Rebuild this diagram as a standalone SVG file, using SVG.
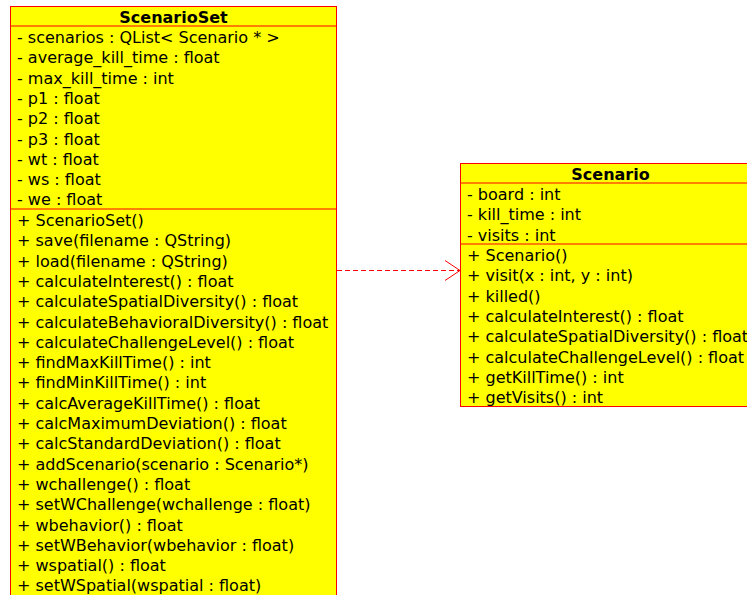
<svg xmlns="http://www.w3.org/2000/svg" width="747" height="595" viewBox="0 0 747 595">
  <style>
    .box { fill: #ffff00; stroke: #ff0000; stroke-width: 1; }
    .sep { stroke: #ff0000; stroke-width: 1; }
    .title { font-family: "DejaVu Sans", sans-serif; font-size: 16px; font-weight: bold; fill: #000; text-anchor: middle; }
    .mem { font-family: "DejaVu Sans", sans-serif; font-size: 16px; fill: #000; }
    .dep { fill: none; stroke: #ff0000; stroke-width: 1; }
  </style>
  <rect width="747" height="595" fill="#ffffff"/>

  <g id="ScenarioSet">
    <rect class="box" x="10.5" y="6.5" width="326" height="600"/>
    <line class="sep" x1="10.5" y1="26" x2="336.5" y2="26"/>
    <line class="sep" x1="10.5" y1="209" x2="336.5" y2="209"/>
    <text class="title" x="173.5" y="23">ScenarioSet</text>
    <text class="mem" x="17" y="43">- scenarios : QList&lt; Scenario * &gt;</text>
    <text class="mem" x="17" y="63.3">- average_kill_time : float</text>
    <text class="mem" x="17" y="83.6">- max_kill_time : int</text>
    <text class="mem" x="17" y="103.9">- p1 : float</text>
    <text class="mem" x="17" y="124.2">- p2 : float</text>
    <text class="mem" x="17" y="144.5">- p3 : float</text>
    <text class="mem" x="17" y="164.8">- wt : float</text>
    <text class="mem" x="17" y="185.1">- ws : float</text>
    <text class="mem" x="17" y="205.4">- we : float</text>
    <text class="mem" x="17" y="226">+ ScenarioSet()</text>
    <text class="mem" x="17" y="246.3">+ save(filename : QString)</text>
    <text class="mem" x="17" y="266.6">+ load(filename : QString)</text>
    <text class="mem" x="17" y="286.9">+ calculateInterest() : float</text>
    <text class="mem" x="17" y="307.2">+ calculateSpatialDiversity() : float</text>
    <text class="mem" x="17" y="327.5">+ calculateBehavioralDiversity() : float</text>
    <text class="mem" x="17" y="347.8">+ calculateChallengeLevel() : float</text>
    <text class="mem" x="17" y="368.1">+ findMaxKillTime() : int</text>
    <text class="mem" x="17" y="388.4">+ findMinKillTime() : int</text>
    <text class="mem" x="17" y="408.7">+ calcAverageKillTime() : float</text>
    <text class="mem" x="17" y="429">+ calcMaximumDeviation() : float</text>
    <text class="mem" x="17" y="449.3">+ calcStandardDeviation() : float</text>
    <text class="mem" x="17" y="469.6">+ addScenario(scenario : Scenario*)</text>
    <text class="mem" x="17" y="489.9">+ wchallenge() : float</text>
    <text class="mem" x="17" y="510.2">+ setWChallenge(wchallenge : float)</text>
    <text class="mem" x="17" y="530.5">+ wbehavior() : float</text>
    <text class="mem" x="17" y="550.8">+ setWBehavior(wbehavior : float)</text>
    <text class="mem" x="17" y="571.1">+ wspatial() : float</text>
    <text class="mem" x="17" y="591.4">+ setWSpatial(wspatial : float)</text>
  </g>

  <g id="Scenario">
    <rect class="box" x="460.5" y="163.5" width="300" height="243"/>
    <line class="sep" x1="460.5" y1="183" x2="760.5" y2="183"/>
    <line class="sep" x1="460.5" y1="244" x2="760.5" y2="244"/>
    <text class="title" x="610.5" y="180">Scenario</text>
    <text class="mem" x="467" y="200">- board : int</text>
    <text class="mem" x="467" y="220.3">- kill_time : int</text>
    <text class="mem" x="467" y="240.6">- visits : int</text>
    <text class="mem" x="467" y="261">+ Scenario()</text>
    <text class="mem" x="467" y="281.3">+ visit(x : int, y : int)</text>
    <text class="mem" x="467" y="301.6">+ killed()</text>
    <text class="mem" x="467" y="321.9">+ calculateInterest() : float</text>
    <text class="mem" x="467" y="342.2">+ calculateSpatialDiversity() : float</text>
    <text class="mem" x="467" y="362.5">+ calculateChallengeLevel() : float</text>
    <text class="mem" x="467" y="382.8">+ getKillTime() : int</text>
    <text class="mem" x="467" y="403.1">+ getVisits() : int</text>
  </g>

  <g id="connectors">
    <line class="dep" x1="337" y1="270.5" x2="460" y2="270.5" stroke-dasharray="5,3"/>
    <polyline class="dep" points="445,260.5 460,270.5 445,280.5"/>
  </g>
</svg>
